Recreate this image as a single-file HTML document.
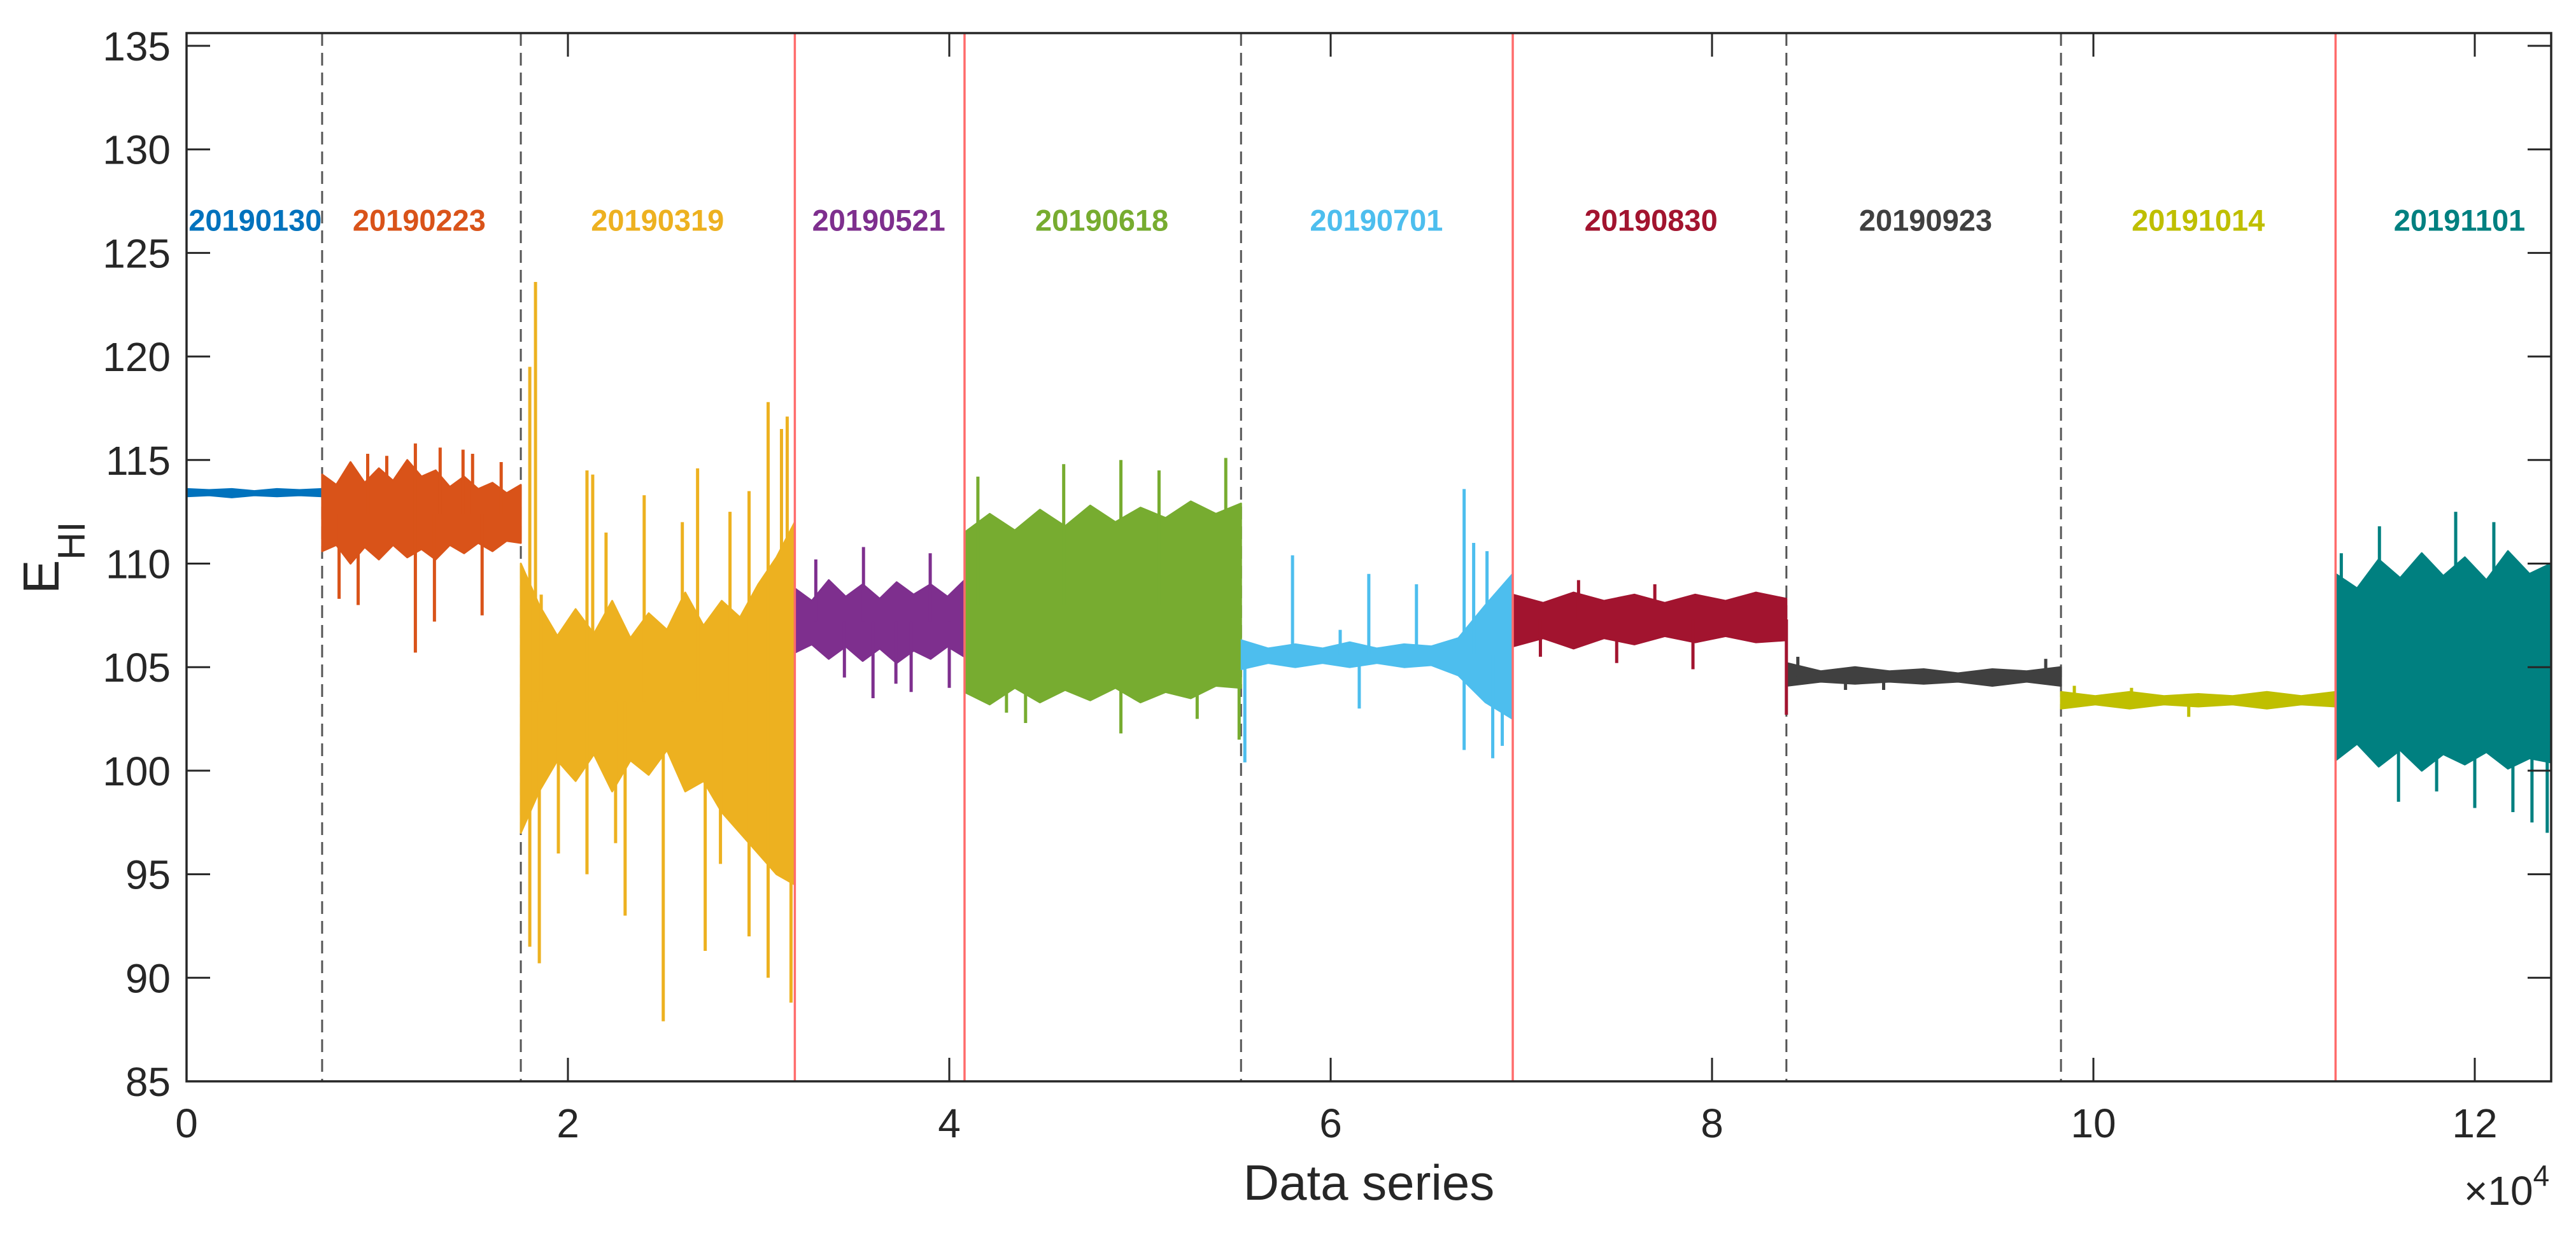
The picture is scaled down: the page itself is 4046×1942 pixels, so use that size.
<!DOCTYPE html>
<html><head><meta charset="utf-8"><style>
html,body{margin:0;padding:0;background:#fff;}
svg{display:block;font-family:"Liberation Sans",Arial,sans-serif;}
</style></head><body>
<svg id="chart" width="4046" height="1942" viewBox="0 0 4046 1942" xmlns="http://www.w3.org/2000/svg">
<rect x="0" y="0" width="4046" height="1942" fill="#fff"/>
<g id="plot"></g>
<g id="axes"></g>
<text x="2150" y="1885" text-anchor="middle" font-size="78" fill="#262626">Data series</text>
<text x="3870" y="1893" font-size="64" fill="#262626">×10<tspan font-size="46" dy="-30">4</tspan></text>
<g transform="translate(92,933) rotate(-90)">
<text x="0" y="0" font-size="80" fill="#262626">E<tspan font-size="60" dy="41">HI</tspan></text>
</g>
</svg>
<script>
// ---- data (x in units of 1e4 samples) ----
const segNames = ["20190130","20190223","20190319","20190521","20190618","20190701","20190830","20190923","20191014","20191101"];
const segColors = ["#0072BD","#D95319","#EDB120","#7E2F8E","#77AC30","#4DBEEE","#A2142F","#404040","#BFBF00","#008080"];
const segStart = [0,0.711,1.753,3.19,4.08,5.53,6.955,8.39,9.83,11.27];
const segEnd   = [0.711,1.753,3.19,4.08,5.53,6.955,8.39,9.83,11.27,12.4];
const labelX   = [0.36,1.22,2.47,3.63,4.80,6.24,7.68,9.12,10.55,11.92];
const labelY   = 126.6;
// upper / lower envelopes sampled evenly across each segment
const upperEnv = [
  [113.6,113.55,113.6,113.5,113.6,113.55,113.6],
  [114.3,113.8,114.9,113.9,114.6,114,115,114.2,114.5,113.7,114.2,113.6,113.9,113.4,113.8],
  [110,108,106.5,107.8,106.6,108.2,106.4,107.6,106.8,108.6,107,108.2,107.4,109,110.3,112],
  [108.8,108.2,109.2,108.4,109,108.3,109.1,108.5,109,108.4,109.2],
  [111.5,112.4,111.6,112.6,111.8,112.8,112,112.7,112.2,113,112.4,112.9],
  [106.3,105.9,106.1,105.9,106.2,105.9,106.1,106,106.4,108,109.5],
  [108.5,108.1,108.6,108.2,108.5,108.1,108.5,108.2,108.6,108.3],
  [105.2,104.8,105,104.8,104.9,104.7,104.9,104.8,105],
  [103.8,103.6,103.8,103.6,103.7,103.6,103.8,103.6,103.8],
  [109.5,108.8,110.2,109.3,110.5,109.4,110.3,109.2,110.6,109.5,110]
];
const lowerEnv = [
  [113.25,113.3,113.2,113.3,113.25,113.3,113.25],
  [110.6,110.9,110,110.8,110.2,110.9,110.3,110.7,110.2,110.9,110.5,111,110.6,111.1,111],
  [97,99,100.5,99.5,100.8,99,100.5,99.8,101,99,99.5,98,97,96,95,94.5],
  [105.7,106.1,105.4,106,105.3,105.9,105.2,105.8,105.4,106,105.5],
  [103.8,103.2,104,103.3,103.9,103.4,104,103.3,103.8,103.5,104.1,104],
  [104.9,105.2,105,105.2,105,105.2,105,105.1,104.6,103.3,102.5],
  [106,106.4,105.9,106.4,106.1,106.5,106.2,106.5,106.2,106.3],
  [104.1,104.3,104.2,104.3,104.2,104.3,104.1,104.3,104.1],
  [103,103.2,103,103.2,103.1,103.2,103,103.2,103.1],
  [100.5,101.3,100.2,101,100,100.8,100.3,100.9,100.1,100.6,100.4]
];
// spikes: [segment index, x (1e4), value]
const spikeSeg = [1,1,1,1,1,1,1,1,1,1,1,1, 2,2,2,2,2,2,2,2,2,2,2,2,2,2,2,2,2,2,2,2,2,2,2,2,2,2, 3,3,3,3,3,3,3,3, 4,4,4,4,4,4,4,4,4,4, 5,5,5,5,5,5,5,5,5,5,5,5, 6,6,6,6,6,6, 7,7,7,7, 8,8,8, 9,9,9,9,9,9,9,9,9,9];
const spikeX   = [0.95,1.2,1.33,1.45,0.9,1.2,1.3,1.55,1.05,1.5,1.65,0.8, 1.80,1.83,1.86,2.10,2.13,2.40,2.68,2.95,3.05,3.12,3.15,1.80,1.85,2.10,2.30,2.50,2.72,2.95,3.05,3.17,2.2,2.6,2.85,1.95,2.25,2.8, 3.55,3.90,3.60,3.72,4.00,3.45,3.3,3.8, 4.15,4.90,5.45,4.90,5.30,4.40,5.52,4.6,5.1,4.3, 5.80,6.20,6.70,6.75,5.55,6.15,6.85,6.70,6.05,6.45,6.82,6.9, 7.30,7.70,7.10,8.39,7.9,7.5, 8.45,9.75,8.90,8.7, 9.9,10.5,10.2, 11.3,11.9,12.1,12.3,12.2,11.8,11.6,12.38,11.5,12.0];
const spikeV   = [115.3,115.8,115.6,115.5,108,105.7,107.2,107.5,115.2,115.3,114.9,108.3, 119.5,123.6,108.5,114.5,114.3,113.3,114.6,113.5,117.8,116.5,117.1,91.5,90.7,95,93,87.9,91.3,92,90,88.8,111.5,112,112.5,96,96.5,95.5, 110.8,110.5,103.5,104.2,104,104.5,110.2,103.8, 114.2,115,115.1,101.8,102.5,102.3,101.5,114.8,114.5,102.8, 110.4,109.5,113.6,111,100.4,103,100.6,101,106.8,109,110.6,101.2, 109.2,109,105.5,102.7,104.9,105.2, 105.5,105.4,103.9,103.9, 104.1,102.6,104, 110.5,112.5,112,97.5,98,99,98.5,97,111.8,98.2];
const xTicks = [0,2,4,6,8,10,12];
const yTicks = [85,90,95,100,105,110,115,120,125,130,135];
const dashedLines = [0.711,1.753,5.53,8.39,9.83];
const redLines = [3.19,4.08,6.955,11.27];

// ---- axis mapping ----
const X0=293, X1=4007, Y0=52, Y1=1699;
const xPx = v => 293 + v*299.5;
const yPx = v => 1699 - (v-85)*32.54;
const NS="http://www.w3.org/2000/svg";
function mk(tag, attrs, parent){const e=document.createElementNS(NS,tag);for(const k in attrs)e.setAttribute(k,attrs[k]);parent.appendChild(e);return e;}
const plot=document.getElementById('plot'), axes=document.getElementById('axes');

dashedLines.forEach(v=>{
  const l=mk('line',{x1:xPx(v),x2:xPx(v),y1:Y0,y2:Y1,stroke:'#555','stroke-width':3,'stroke-dasharray':'20,11'},plot);
  
  
});
segNames.forEach((n,i)=>{
  const up=upperEnv[i], lo=lowerEnv[i], s=segStart[i], e=segEnd[i];
  let pts=[];
  up.forEach((v,k)=>pts.push(xPx(s+(e-s)*k/(up.length-1))+','+yPx(v)));
  for(let k=lo.length-1;k>=0;k--) pts.push(xPx(s+(e-s)*k/(lo.length-1))+','+yPx(lo[k]));
  const p=mk('polygon',{points:pts.join(' '),fill:segColors[i],stroke:segColors[i],'stroke-width':3,'stroke-linejoin':'round'},plot);
  
  
});
spikeSeg.forEach((si,k)=>{
  const up=upperEnv[si], lo=lowerEnv[si];
  const mid=(up.reduce((a,b)=>a+b,0)/up.length + lo.reduce((a,b)=>a+b,0)/lo.length)/2;
  const l=mk('line',{x1:xPx(spikeX[k]),x2:xPx(spikeX[k]),y1:yPx(mid),y2:yPx(spikeV[k]),stroke:segColors[si],'stroke-width':5},plot);
  
  
});
redLines.forEach(v=>{
  const l=mk('line',{x1:xPx(v),x2:xPx(v),y1:Y0,y2:Y1,stroke:'#FF6B6B','stroke-width':3.5},plot);
  
  
});
segNames.forEach((n,i)=>{
  const t=mk('text',{x:xPx(labelX[i]),y:yPx(labelY)+17,'text-anchor':'middle','font-size':47,'font-weight':'bold',fill:segColors[i]},plot);
  t.textContent=n;
  
  
});
const box=mk('rect',{x:X0,y:Y0,width:X1-X0,height:Y1-Y0,fill:'none',stroke:'#262626','stroke-width':3.5},axes);


xTicks.forEach(v=>{
  mk('line',{x1:xPx(v),x2:xPx(v),y1:Y1,y2:Y1-37,stroke:'#262626','stroke-width':3},axes);
  mk('line',{x1:xPx(v),x2:xPx(v),y1:Y0,y2:Y0+37,stroke:'#262626','stroke-width':3},axes);
  const t=mk('text',{x:xPx(v),y:1787,'text-anchor':'middle','font-size':64,fill:'#262626'},axes);
  t.textContent=v;
  
  
});
yTicks.forEach(v=>{
  mk('line',{x1:X0,x2:X0+37,y1:yPx(v),y2:yPx(v),stroke:'#262626','stroke-width':3},axes);
  mk('line',{x1:X1,x2:X1-37,y1:yPx(v),y2:yPx(v),stroke:'#262626','stroke-width':3},axes);
  const t=mk('text',{x:268,y:yPx(v)+23,'text-anchor':'end','font-size':64,fill:'#262626'},axes);
  t.textContent=v;
  
  
});
</script>
</body></html>
